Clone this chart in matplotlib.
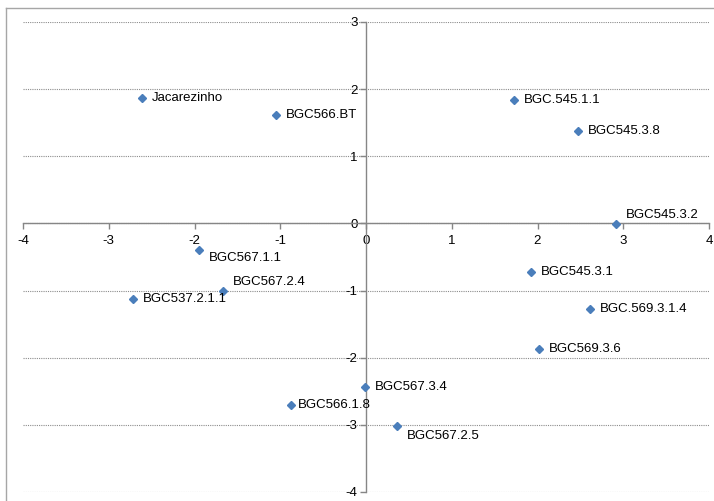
import numpy as np
from matplotlib import pyplot as plt
from matplotlib.lines import Line2D

plt.rcParams['font.family'] = ['Liberation Sans', 'DejaVu Sans']
plt.rcParams['axes.unicode_minus'] = False

names = ['Jacarezinho', 'BGC566.BT', 'BGC.545.1.1', 'BGC545.3.8', 'BGC545.3.2',
         'BGC567.1.1', 'BGC567.2.4', 'BGC537.2.1.1', 'BGC566.1.8', 'BGC545.3.1',
         'BGC.569.3.1.4', 'BGC569.3.6', 'BGC567.3.4', 'BGC567.2.5']
x_vals = [-2.61, -1.05, 1.73, 2.47, 2.92, -1.95, -1.67, -2.72, -0.88, 1.92,
          2.61, 2.02, -0.01, 0.365]
y_vals = [1.87, 1.62, 1.84, 1.37, -0.01, -0.40, -1.00, -1.12, -2.70, -0.72,
          -1.28, -1.87, -2.43, -3.02]

# label offsets in pixels (default: right of marker)
offsets = {'BGC545.3.2': (9, 9), 'BGC567.1.1': (10, -8),
           'BGC567.2.4': (10, 9), 'BGC567.2.5': (10, -10),
           'BGC566.1.8': (7, 0)}

W, H = 714, 501
fig = plt.figure(figsize=(W / 100, H / 100), dpi=100)
ax = fig.add_axes([23 / W, 1 - 492 / H, (709 - 23) / W, (492 - 22) / H])

ax.plot(x_vals, y_vals, 'D', color='#4A7EBB', markersize=4.5, zorder=3,
        clip_on=False)
for n, x, y in zip(names, x_vals, y_vals):
    dx, dy = offsets.get(n, (10, 0))
    ax.annotate(n, (x, y), xytext=(dx, dy), textcoords='offset pixels',
                ha='left', va='center', fontsize=9.5, color='black')

ax.set_xlim(-4, 4)
ax.set_ylim(-4, 3)
ax.set_xticks(np.arange(-4, 5))
ax.set_yticks(np.arange(-4, 4))

for s in ['top', 'right']:
    ax.spines[s].set_visible(False)
ax.spines['left'].set_position(('data', 0))
ax.spines['bottom'].set_position(('data', 0))
for s in ['left', 'bottom']:
    ax.spines[s].set_color('#868686')
    ax.spines[s].set_linewidth(1)

ax.tick_params(axis='x', direction='out', length=4, width=1, color='#868686',
               pad=4, labelsize=9.5)
ax.tick_params(axis='y', direction='out', length=4, width=1, color='#868686',
               pad=2, labelsize=9.5)

ax.yaxis.grid(True, linestyle=(0, (1, 1)), color='#8c8c8c', linewidth=0.8)
ax.set_axisbelow(True)

# outer chart frame
fig.add_artist(Line2D([6 / W, 6 / W], [0, 1 - 8 / H], transform=fig.transFigure,
                      color='#a6a6a6', linewidth=1))
fig.add_artist(Line2D([6 / W, 1], [1 - 8 / H, 1 - 8 / H], transform=fig.transFigure,
                      color='#a6a6a6', linewidth=1))

plt.savefig('out.png', dpi=100)
